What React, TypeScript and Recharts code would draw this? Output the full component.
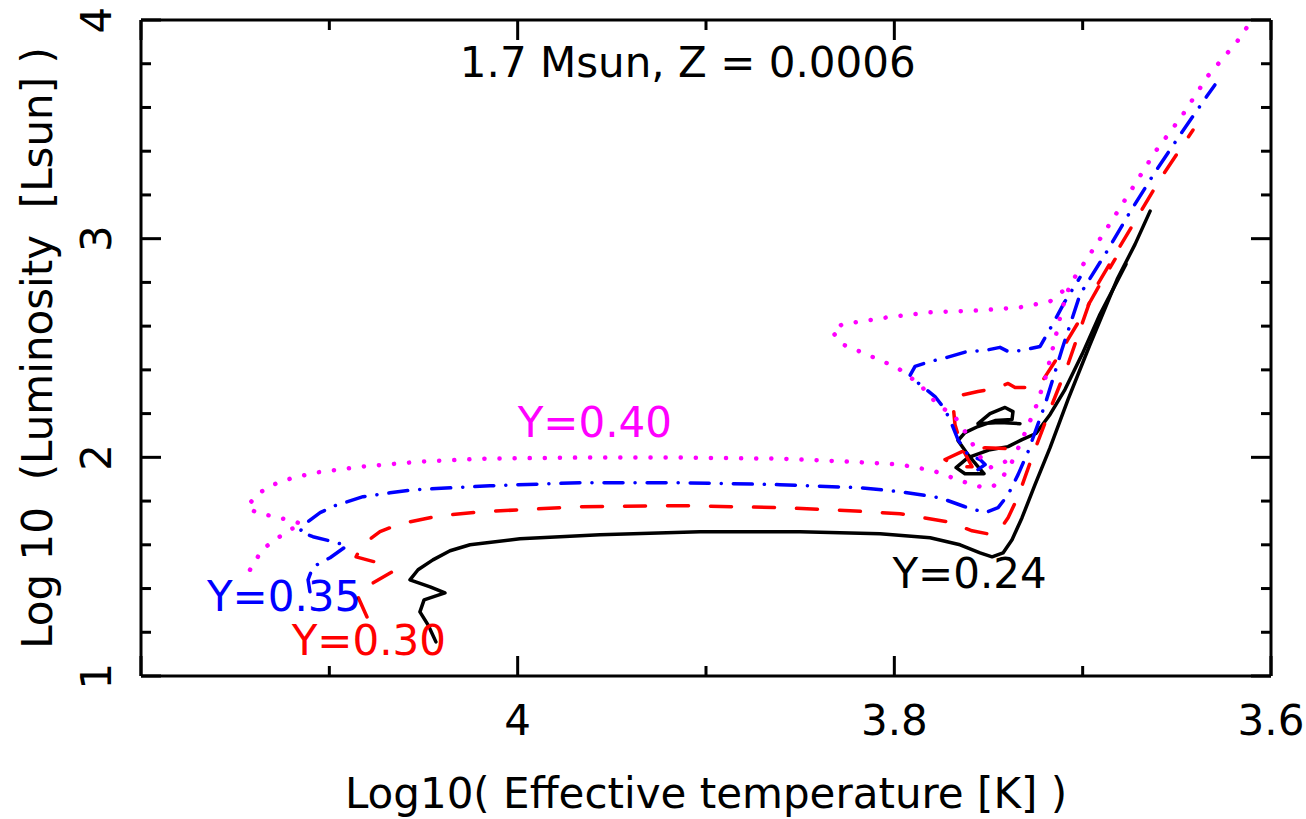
import { LineChart, Line, XAxis, YAxis, ReferenceDot, Label } from "recharts";

// Log Teff / Log L
const y24Main = [
  { x: 4.0434, y: 1.156 }, { x: 4.0476, y: 1.234 }, { x: 4.0519, y: 1.293 }, { x: 4.0497, y: 1.348 },
  { x: 4.0386, y: 1.38 }, { x: 4.0465, y: 1.408 }, { x: 4.0572, y: 1.44 }, { x: 4.0529, y: 1.486 },
  { x: 4.045, y: 1.531 }, { x: 4.0359, y: 1.573 }, { x: 4.0253, y: 1.6 }, { x: 3.9988, y: 1.628 },
  { x: 3.9563, y: 1.646 }, { x: 3.9032, y: 1.66 }, { x: 3.8501, y: 1.66 }, { x: 3.8076, y: 1.651 },
  { x: 3.781, y: 1.632 }, { x: 3.7651, y: 1.6 }, { x: 3.7545, y: 1.563 }, { x: 3.7481, y: 1.545 },
  { x: 3.7423, y: 1.563 }, { x: 3.7375, y: 1.623 }, { x: 3.7322, y: 1.724 }, { x: 3.7253, y: 1.875 },
  { x: 3.7173, y: 2.044 }, { x: 3.7078, y: 2.264 }, { x: 3.6961, y: 2.516 }, { x: 3.6817, y: 2.814 },
  { x: 3.6722, y: 2.974 }, { x: 3.6642, y: 3.126 },
];
const y24He = [
  { x: 3.7333, y: 2.154 }, { x: 3.7439, y: 2.159 }, { x: 3.7556, y: 2.154 }, { x: 3.7492, y: 2.2 },
  { x: 3.7412, y: 2.228 }, { x: 3.737, y: 2.209 }, { x: 3.7375, y: 2.173 }, { x: 3.7465, y: 2.168 },
  { x: 3.7556, y: 2.141 }, { x: 3.7625, y: 2.113 }, { x: 3.7662, y: 2.077 }, { x: 3.7609, y: 2.012 },
  { x: 3.7556, y: 1.957 }, { x: 3.7524, y: 1.925 }, { x: 3.7625, y: 1.925 }, { x: 3.7672, y: 1.953 },
  { x: 3.7609, y: 1.999 }, { x: 3.7492, y: 2.035 }, { x: 3.7396, y: 2.049 }, { x: 3.7322, y: 2.081 },
  { x: 3.7248, y: 2.109 }, { x: 3.7173, y: 2.196 }, { x: 3.7094, y: 2.31 }, { x: 3.7003, y: 2.471 },
  { x: 3.6908, y: 2.654 }, { x: 3.6839, y: 2.768 }, { x: 3.677, y: 2.883 },
];
const y30Main = [
  { x: 4.08, y: 1.27 }, { x: 4.0848, y: 1.362 }, { x: 4.0795, y: 1.412 }, { x: 4.0667, y: 1.476 },
  { x: 4.0742, y: 1.518 }, { x: 4.0858, y: 1.545 }, { x: 4.0826, y: 1.6 }, { x: 4.0731, y: 1.66 },
  { x: 4.0625, y: 1.696 }, { x: 4.0412, y: 1.733 }, { x: 4.02, y: 1.751 }, { x: 3.9669, y: 1.774 },
  { x: 3.9138, y: 1.779 }, { x: 3.8607, y: 1.77 }, { x: 3.8235, y: 1.756 }, { x: 3.797, y: 1.742 },
  { x: 3.7715, y: 1.705 }, { x: 3.7587, y: 1.664 }, { x: 3.7503, y: 1.65 }, { x: 3.7439, y: 1.669 },
  { x: 3.7396, y: 1.724 }, { x: 3.7343, y: 1.82 }, { x: 3.7264, y: 2.012 }, { x: 3.7173, y: 2.219 },
  { x: 3.7078, y: 2.425 }, { x: 3.6945, y: 2.755 }, { x: 3.6802, y: 2.965 }, { x: 3.6589, y: 3.272 },
  { x: 3.6414, y: 3.497 },
];
const y30He = [
  { x: 3.7412, y: 2.04 }, { x: 3.7518, y: 2.044 }, { x: 3.7641, y: 2.026 }, { x: 3.7731, y: 1.99 },
  { x: 3.7667, y: 1.957 }, { x: 3.7587, y: 1.957 }, { x: 3.7641, y: 2.044 }, { x: 3.7678, y: 2.15 },
  { x: 3.7688, y: 2.241 }, { x: 3.7651, y: 2.283 }, { x: 3.7556, y: 2.301 }, { x: 3.7465, y: 2.315 },
  { x: 3.7396, y: 2.338 }, { x: 3.7359, y: 2.319 }, { x: 3.729, y: 2.319 }, { x: 3.7216, y: 2.347 },
  { x: 3.7147, y: 2.438 }, { x: 3.7078, y: 2.539 }, { x: 3.6998, y: 2.654 }, { x: 3.6908, y: 2.791 },
  { x: 3.6828, y: 2.906 },
];
const y35Main = [
  { x: 4.1103, y: 1.385 }, { x: 4.1113, y: 1.44 }, { x: 4.1087, y: 1.499 }, { x: 4.0996, y: 1.541 },
  { x: 4.0906, y: 1.596 }, { x: 4.098, y: 1.614 }, { x: 4.1087, y: 1.637 }, { x: 4.1156, y: 1.66 },
  { x: 4.1129, y: 1.696 }, { x: 4.1049, y: 1.747 }, { x: 4.097, y: 1.779 }, { x: 4.0821, y: 1.82 },
  { x: 4.0678, y: 1.838 }, { x: 4.0545, y: 1.852 }, { x: 4.0147, y: 1.87 }, { x: 3.9669, y: 1.884 },
  { x: 3.9138, y: 1.884 }, { x: 3.8607, y: 1.875 }, { x: 3.8182, y: 1.861 }, { x: 3.797, y: 1.843 },
  { x: 3.7757, y: 1.815 }, { x: 3.7625, y: 1.774 }, { x: 3.7518, y: 1.747 }, { x: 3.7449, y: 1.77 },
  { x: 3.7396, y: 1.829 }, { x: 3.7343, y: 1.921 }, { x: 3.729, y: 2.026 }, { x: 3.72, y: 2.241 },
  { x: 3.711, y: 2.493 }, { x: 3.7014, y: 2.745 }, { x: 3.6871, y: 2.942 }, { x: 3.6749, y: 3.121 },
  { x: 3.6616, y: 3.304 }, { x: 3.6473, y: 3.487 }, { x: 3.634, y: 3.652 }, { x: 3.6298, y: 3.703 },
];
const y35He = [
  { x: 3.7556, y: 1.944 }, { x: 3.7518, y: 1.967 }, { x: 3.7545, y: 1.99 }, { x: 3.7609, y: 2.012 },
  { x: 3.7662, y: 2.081 }, { x: 3.7694, y: 2.15 }, { x: 3.7731, y: 2.219 }, { x: 3.7784, y: 2.278 },
  { x: 3.7864, y: 2.333 }, { x: 3.7917, y: 2.374 }, { x: 3.789, y: 2.416 }, { x: 3.781, y: 2.438 },
  { x: 3.772, y: 2.457 }, { x: 3.7614, y: 2.484 }, { x: 3.7518, y: 2.489 }, { x: 3.7439, y: 2.503 },
  { x: 3.7396, y: 2.484 }, { x: 3.7322, y: 2.489 }, { x: 3.7226, y: 2.507 }, { x: 3.7163, y: 2.603 },
  { x: 3.7094, y: 2.713 }, { x: 3.7014, y: 2.823 },
];
const y40Main = [
  { x: 4.1421, y: 1.486 }, { x: 4.1389, y: 1.531 }, { x: 4.1358, y: 1.577 }, { x: 4.1288, y: 1.623 },
  { x: 4.1209, y: 1.669 }, { x: 4.1145, y: 1.696 }, { x: 4.1225, y: 1.715 }, { x: 4.1315, y: 1.733 },
  { x: 4.1395, y: 1.751 }, { x: 4.1437, y: 1.774 }, { x: 4.1384, y: 1.829 }, { x: 4.1315, y: 1.87 },
  { x: 4.1209, y: 1.902 }, { x: 4.1076, y: 1.93 }, { x: 4.0837, y: 1.957 }, { x: 4.0519, y: 1.98 },
  { x: 4.0184, y: 1.994 }, { x: 3.9669, y: 1.999 }, { x: 3.9138, y: 1.999 }, { x: 3.8607, y: 1.994 },
  { x: 3.8235, y: 1.98 }, { x: 3.797, y: 1.967 }, { x: 3.7794, y: 1.939 }, { x: 3.7635, y: 1.889 },
  { x: 3.7545, y: 1.866 }, { x: 3.7476, y: 1.866 }, { x: 3.7423, y: 1.912 }, { x: 3.7375, y: 1.98 },
  { x: 3.7322, y: 2.081 }, { x: 3.7253, y: 2.219 }, { x: 3.72, y: 2.356 }, { x: 3.7147, y: 2.539 },
  { x: 3.711, y: 2.677 }, { x: 3.7067, y: 2.791 }, { x: 3.6972, y: 2.915 }, { x: 3.6881, y: 3.034 },
  { x: 3.6749, y: 3.213 }, { x: 3.6616, y: 3.396 }, { x: 3.6473, y: 3.561 }, { x: 3.6335, y: 3.744 },
  { x: 3.6181, y: 3.9 }, { x: 3.6101, y: 4.0 },
];
const y40He = [
  { x: 3.7412, y: 1.98 }, { x: 3.7492, y: 1.953 }, { x: 3.7545, y: 2.003 }, { x: 3.7598, y: 2.081 },
  { x: 3.7641, y: 2.141 }, { x: 3.7688, y: 2.196 }, { x: 3.7757, y: 2.232 }, { x: 3.781, y: 2.278 },
  { x: 3.7864, y: 2.333 }, { x: 3.7986, y: 2.411 }, { x: 3.8145, y: 2.47 }, { x: 3.8273, y: 2.516 },
  { x: 3.8331, y: 2.576 }, { x: 3.8278, y: 2.608 }, { x: 3.8039, y: 2.64 }, { x: 3.781, y: 2.663 },
  { x: 3.7545, y: 2.672 }, { x: 3.7333, y: 2.686 }, { x: 3.7173, y: 2.713 }, { x: 3.7094, y: 2.768 },
];

const xTicks = [4.2, 4.1, 4.0, 3.9, 3.8, 3.7, 3.6];
const xLabelled = [4.0, 3.8, 3.6];
const yTicks = [1, 1.2, 1.4, 1.6, 1.8, 2, 2.2, 2.4, 2.6, 2.8, 3, 3.2, 3.4, 3.6, 3.8, 4];
const yLabelled = [1, 2, 3, 4];

const trackLabels = [
  { text: "Y=0.40", key: "y40", x: 4.0, y: 2.095 },
  { text: "Y=0.35", key: "y35", x: 4.165, y: 1.298 },
  { text: "Y=0.30", key: "y30", x: 4.12, y: 1.096 },
  { text: "Y=0.24", key: "y24", x: 3.801, y: 1.403 },
];
const title = { text: "1.7 Msun, Z = 0.0006", x: 3.9097, y: 3.739 };

const FONT = "'DejaVu Sans', sans-serif";
const FS = 42;

const styles: Record<string, { color: string; width: number; dash?: string }> = {
  y24: { color: "#000000", width: 3.5 },
  y30: { color: "#ff0000", width: 3.5, dash: "21 22" },
  y35: { color: "#0000ff", width: 3.5, dash: "19 12 0.1 12" },
  y40: { color: "#ff00ff", width: 4.5, dash: "0.1 15" },
};

const series = [
  { id: "y24a", key: "y24", data: y24Main },
  { id: "y24b", key: "y24", data: y24He },
  { id: "y30a", key: "y30", data: y30Main },
  { id: "y30b", key: "y30", data: y30He },
  { id: "y35a", key: "y35", data: y35Main },
  { id: "y35b", key: "y35", data: y35He },
  { id: "y40a", key: "y40", data: y40Main },
  { id: "y40b", key: "y40", data: y40He },
];

const near = (a: number, b: number) => Math.abs(a - b) < 1e-6;
const xMajor = (v: number) => Math.round(v * 10) % 2 === 0;
const yMajor = (v: number) => near(v, Math.round(v));

const tickFor = (side: "bottom" | "top" | "left" | "right") => (props: any) => {
  const { x, y, payload } = props;
  const v = payload.value;
  const major = side === "bottom" || side === "top" ? xMajor(v) : yMajor(v);
  const len = major ? 20 : 10;
  let line;
  if (side === "bottom") line = <line x1={x} y1={y} x2={x} y2={y - len} />;
  else if (side === "top") line = <line x1={x} y1={y} x2={x} y2={y + len} />;
  else if (side === "left") line = <line x1={x} y1={y} x2={x + len} y2={y} />;
  else line = <line x1={x} y1={y} x2={x - len} y2={y} />;
  return (
    <g stroke="#000" strokeWidth={3}>
      {line}
      {side === "bottom" && xLabelled.some((t) => near(t, v)) && (
        <text x={x} y={y + 59} textAnchor="middle" fontSize={FS} fontFamily={FONT} fill="#000" stroke="none">
          {String(v)}
        </text>
      )}
      {side === "left" && yLabelled.some((t) => near(t, v)) && (
        <text
          x={x - 30}
          y={y}
          transform={`rotate(-90 ${x - 30} ${y})`}
          textAnchor="middle"
          fontSize={FS}
          fontFamily={FONT}
          fill="#000"
          stroke="none"
        >
          {String(v)}
        </text>
      )}
    </g>
  );
};

export default function App() {
  return (
    <div style={{ position: "absolute", left: 0, top: 0, width: 1306, height: 819, background: "#fff" }}>
      <LineChart width={1306} height={819} margin={{ top: 19, right: 34, left: 81, bottom: 83 }}>
        <XAxis
          type="number"
          dataKey="x"
          domain={[3.6, 4.2]}
          reversed
          allowDataOverflow
          ticks={xTicks}
          interval={0}
          height={60}
          tickSize={0}
          tickMargin={0}
          tickLine={false}
          axisLine={{ stroke: "#000", strokeWidth: 3 }}
          tick={tickFor("bottom")}
        >
          <Label
            content={(p: any) => {
              const vb = p.viewBox;
              return (
                <text x={vb.x + vb.width / 2} y={808} textAnchor="middle" fontSize={FS} fontFamily={FONT} fill="#000">
                  Log10( Effective temperature [K] )
                </text>
              );
            }}
          />
        </XAxis>
        <XAxis
          xAxisId="top"
          orientation="top"
          type="number"
          dataKey="x"
          domain={[3.6, 4.2]}
          reversed
          allowDataOverflow
          ticks={xTicks}
          interval={0}
          height={1}
          tickSize={0}
          tickMargin={0}
          tickLine={false}
          axisLine={{ stroke: "#000", strokeWidth: 3 }}
          tick={tickFor("top")}
        />
        <YAxis
          type="number"
          dataKey="y"
          domain={[1, 4]}
          allowDataOverflow
          ticks={yTicks}
          interval={0}
          width={60}
          tickSize={0}
          tickMargin={0}
          tickLine={false}
          axisLine={{ stroke: "#000", strokeWidth: 3 }}
          tick={tickFor("left")}
        >
          <Label
            content={(p: any) => {
              const vb = p.viewBox;
              const cy = vb.y + vb.height / 2;
              return (
                <text
                  x={52}
                  y={cy}
                  transform={`rotate(-90 52 ${cy})`}
                  textAnchor="middle"
                  fontSize={FS}
                  fontFamily={FONT}
                  fill="#000"
                  style={{ whiteSpace: "pre" }}
                >
                  {"Log 10  (Luminosity  [Lsun] )"}
                </text>
              );
            }}
          />
        </YAxis>
        <YAxis
          yAxisId="right"
          orientation="right"
          type="number"
          dataKey="y"
          domain={[1, 4]}
          allowDataOverflow
          ticks={yTicks}
          interval={0}
          width={1}
          tickSize={0}
          tickMargin={0}
          tickLine={false}
          axisLine={{ stroke: "#000", strokeWidth: 3 }}
          tick={tickFor("right")}
        />
        {series.map((s) => (
          <Line
            key={s.id}
            data={s.data}
            dataKey="y"
            type="linear"
            stroke={styles[s.key].color}
            strokeWidth={styles[s.key].width}
            strokeDasharray={styles[s.key].dash}
            strokeLinecap="round"
            strokeLinejoin="round"
            dot={false}
            activeDot={false}
            isAnimationActive={false}
          />
        ))}
        {trackLabels.map((l) => (
          <ReferenceDot
            key={l.text}
            x={l.x}
            y={l.y}
            r={0}
            ifOverflow="visible"
            shape={(p: any) => (
              <text x={p.cx} y={p.cy} fontSize={FS} fontFamily={FONT} fill={styles[l.key].color}>
                {l.text}
              </text>
            )}
          />
        ))}
        <ReferenceDot
          x={title.x}
          y={title.y}
          r={0}
          ifOverflow="visible"
          shape={(p: any) => (
            <text x={p.cx} y={p.cy} textAnchor="middle" fontSize={FS} fontFamily={FONT} fill="#000">
              {title.text}
            </text>
          )}
        />
      </LineChart>
    </div>
  );
}
